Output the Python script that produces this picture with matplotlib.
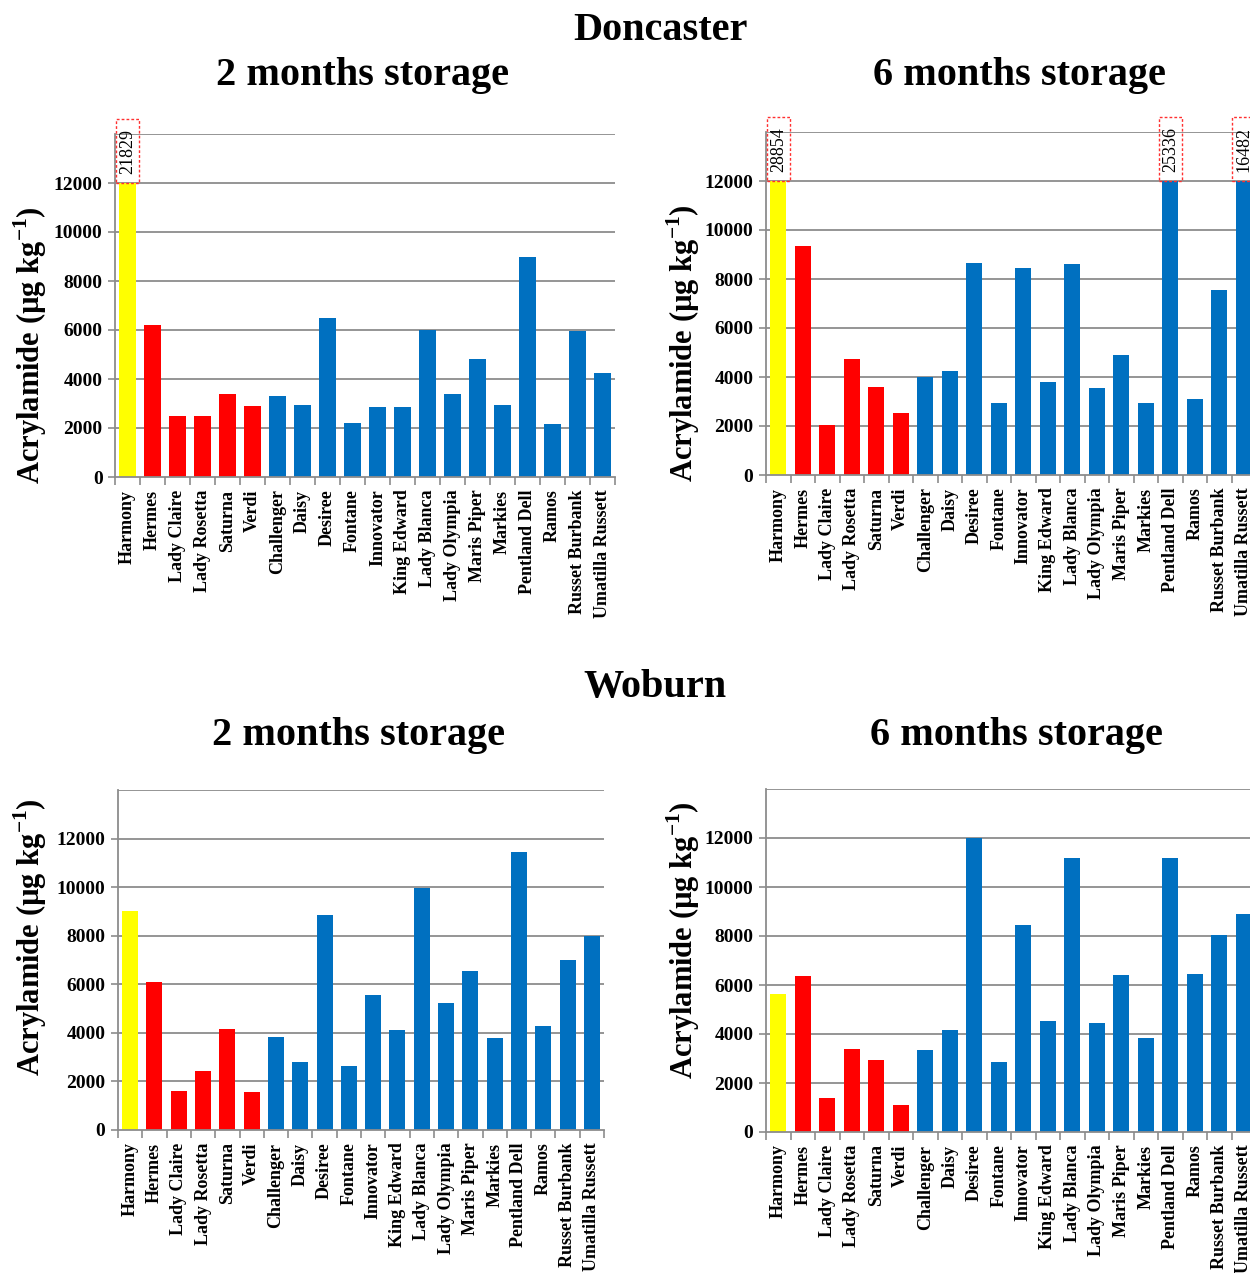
import numpy as np
import matplotlib.pyplot as plt
from matplotlib.patches import Rectangle

plt.rcParams['font.family'] = ['Liberation Serif', 'DejaVu Serif']
plt.rcParams['mathtext.fontset'] = 'custom'
plt.rcParams['mathtext.rm'] = 'Liberation Serif:bold'
plt.rcParams['mathtext.bf'] = 'Liberation Serif:bold'

varieties = ['Harmony', 'Hermes', 'Lady Claire', 'Lady Rosetta', 'Saturna', 'Verdi',
             'Challenger', 'Daisy', 'Desiree', 'Fontane', 'Innovator', 'King Edward',
             'Lady Blanca', 'Lady Olympia', 'Maris Piper', 'Markies', 'Pentland Dell',
             'Ramos', 'Russet Burbank', 'Umatilla Russett']

# acrylamide, ug/kg
doncaster_2m = [21829, 6200, 2500, 2500, 3400, 2900, 3300, 2950, 6500, 2200,
                2850, 2850, 6000, 3400, 4800, 2950, 9000, 2150, 5950, 4250]
doncaster_6m = [28854, 9350, 2050, 4750, 3600, 2550, 4000, 4250, 8650, 2950,
                8450, 3800, 8600, 3550, 4900, 2950, 25336, 3100, 7550, 16482]
woburn_2m = [9000, 6100, 1600, 2450, 4150, 1580, 3850, 2800, 8850, 2650,
             5550, 4100, 9950, 5250, 6550, 3800, 11450, 4300, 7000, 8000]
woburn_6m = [5650, 6350, 1400, 3400, 2950, 1100, 3350, 4150, 12000, 2850,
             8450, 4550, 11200, 4450, 6400, 3850, 11200, 6450, 8050, 8900]

# 1 yellow, 5 red, rest blue
group = ['y'] + ['r'] * 5 + ['b'] * 14
col = {'y': '#FFFF00', 'r': '#FF0000', 'b': '#0070C0'}
CAP = 12000

W, H = 1250, 1273
fig = plt.figure(figsize=(12.5, 12.73), dpi=100)


def px_axes(x0, x1, ytop, ybot):
    return fig.add_axes([x0 / W, 1 - ybot / H, (x1 - x0) / W, (ybot - ytop) / H])


def panel(ax, vals):
    x = np.arange(len(varieties))
    vals = np.array(vals)
    ax.bar(x, np.minimum(vals, CAP), width=0.66, color=[col[g] for g in group], zorder=2)
    ax.set_xlim(-0.5, len(varieties) - 0.5)
    ax.set_ylim(0, 14000)
    ax.set_yticks(np.arange(0, 12001, 2000))
    ax.set_yticklabels([str(v) for v in range(0, 12001, 2000)], fontsize=14, fontweight='bold')
    ax.set_xticks(x)
    ax.set_xticklabels(varieties, rotation=90, fontsize=13, fontweight='bold')
    ax.set_xticks(np.arange(-0.5, len(varieties)), minor=True)
    ax.tick_params(axis='x', which='major', length=0, pad=9)
    ax.tick_params(axis='x', which='minor', length=6, color='#8c8c8c', width=1.2)
    ax.tick_params(axis='y', length=5, color='#8c8c8c', width=1.2, pad=4)
    for yv in range(2000, 14001, 2000):
        ax.axhline(yv, color='#8c8c8c', lw=1.3, zorder=1)
    for s in ['top', 'right']:
        ax.spines[s].set_visible(False)
    for s in ['left', 'bottom']:
        ax.spines[s].set_color('#8c8c8c')
        ax.spines[s].set_linewidth(1.3)
    # values above the cap
    for i, v in enumerate(vals):
        if v > CAP:
            ax.add_patch(Rectangle((i - 0.46, CAP), 0.92, 2600, fill=False, ec='#FF3030',
                                   ls=(0, (2, 1.5)), lw=1.0, clip_on=False, zorder=3))
            ax.text(i, CAP + 1300, str(v), rotation=90, ha='center', va='center',
                    fontsize=13, clip_on=False, zorder=4)


ax1 = px_axes(115, 615, 134, 477)
ax2 = px_axes(766, 1256, 132, 475)
ax3 = px_axes(118, 604, 790, 1130)
ax4 = px_axes(766, 1256, 789, 1132)

panel(ax1, doncaster_2m)
panel(ax2, doncaster_6m)
panel(ax3, woburn_2m)
panel(ax4, woburn_6m)

tkw = dict(ha='center', va='center', fontsize=29, fontweight='bold')
fig.text(660 / W, 1 - 30 / H, 'Doncaster', **tkw)
fig.text(362 / W, 1 - 75 / H, '2 months storage', **tkw)
fig.text(1019 / W, 1 - 75 / H, '6 months storage', **tkw)
fig.text(655 / W, 1 - 688 / H, 'Woburn', **tkw)
fig.text(358 / W, 1 - 735 / H, '2 months storage', **tkw)
fig.text(1016 / W, 1 - 735 / H, '6 months storage', **tkw)

ylab = r'Acrylamide (µg kg$^{-1}$)'
for xp, yp in [(30, 345), (683, 343), (30, 937), (683, 940)]:
    fig.text(xp / W, 1 - yp / H, ylab, rotation=90, ha='center', va='center',
             fontsize=22, fontweight='bold')

fig.savefig('out.png', dpi=100)
